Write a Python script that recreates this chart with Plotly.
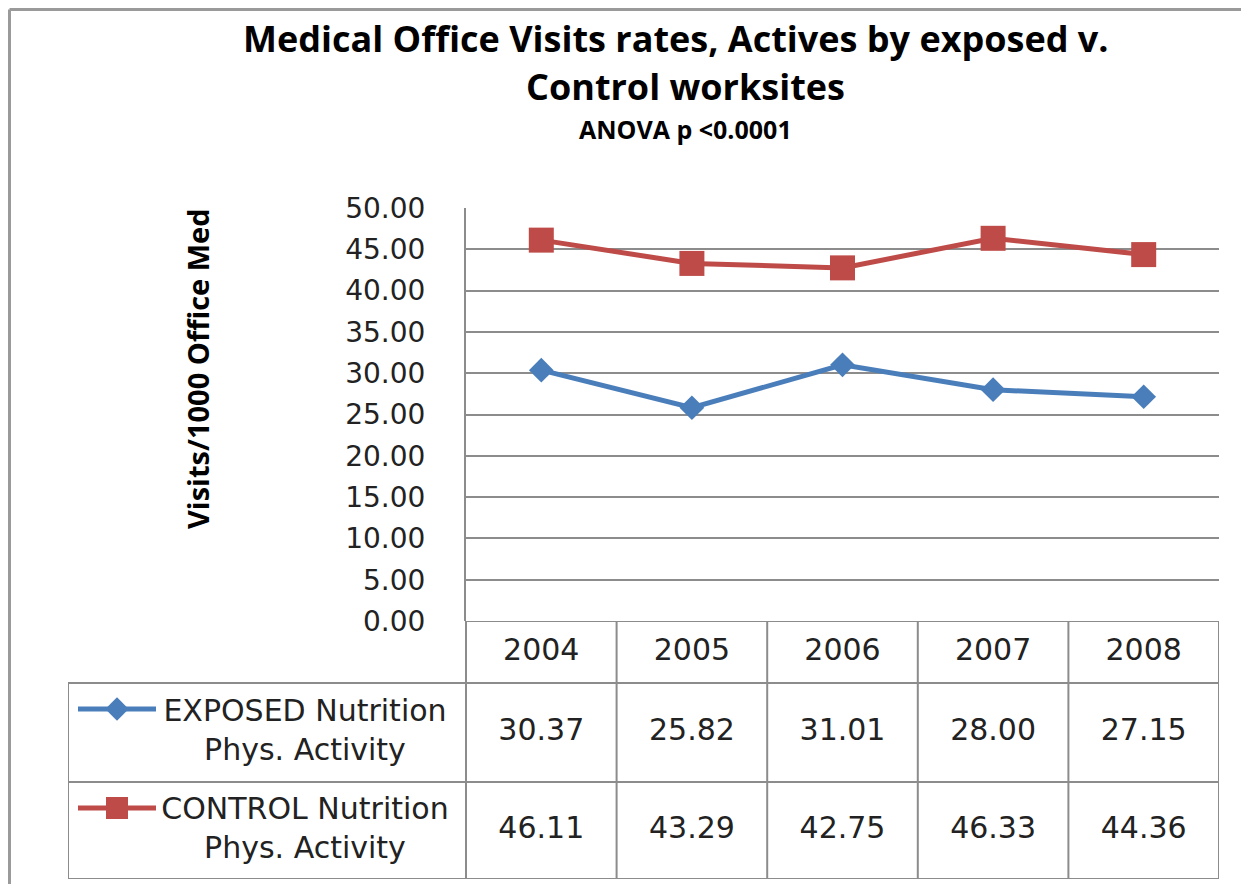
import plotly.graph_objects as go

# ---------------- data ----------------
years = [2004, 2005, 2006, 2007, 2008]
exposed = [30.37, 25.82, 31.01, 28.00, 27.15]
control = [46.11, 43.29, 42.75, 46.33, 44.36]
exposed_name = "EXPOSED Nutrition<br>Phys. Activity"
control_name = "CONTROL Nutrition<br>Phys. Activity"
y_ticks = [0, 5, 10, 15, 20, 25, 30, 35, 40, 45, 50]

# ---------------- layout constants ----------------
PAGE_W, PAGE_H = 1249, 892
OFF = 8                     # default page body margin
W, H = PAGE_W - 2 * OFF, PAGE_H - 2 * OFF
BLUE = "#4A7EBB"
RED = "#BE4B48"
GRID = "#8C8C8C"
FONT = "DejaVu Sans"
TFONT = "Open Sans"


def px(x):
    """page x pixel -> paper fraction"""
    return (x - OFF) / W


def py(y):
    """page y pixel -> paper fraction"""
    return 1 - (y - OFF) / H


plot_left, plot_right, plot_top, plot_bottom = 466, 1219, 208, 621
table_left, table_bottom = 68, 879
row_edges = [0, 62, 161, 258]  # header / exposed / control rows (table units = px)
cat_w = (plot_right - plot_left) / len(years)
x2_min = -0.5 - (plot_left - table_left) / cat_w
x2_max = len(years) - 0.5

fig = go.Figure()

# main lines
fig.add_trace(go.Scatter(
    x=[str(y) for y in years], y=exposed, mode="lines+markers",
    line=dict(color=BLUE, width=5),
    marker=dict(symbol="diamond", size=19, color=BLUE),
    xaxis="x", yaxis="y", showlegend=False, cliponaxis=False))
fig.add_trace(go.Scatter(
    x=[str(y) for y in years], y=control, mode="lines+markers",
    line=dict(color=RED, width=5),
    marker=dict(symbol="square", size=25, color=RED),
    xaxis="x", yaxis="y", showlegend=False, cliponaxis=False))

# ---------------- data table ----------------
idx = list(range(len(years)))
row_c = [(row_edges[i] + row_edges[i + 1]) / 2 for i in range(3)]
num_font = dict(family=FONT, size=30, color="#222")
fig.add_trace(go.Scatter(
    x=idx, y=[row_c[0]] * len(years), text=[str(y) for y in years],
    mode="text", textfont=num_font, xaxis="x2", yaxis="y2", showlegend=False))
fig.add_trace(go.Scatter(
    x=idx, y=[row_c[1]] * len(years), text=[f"{v:.2f}" for v in exposed],
    mode="text", textfont=num_font, xaxis="x2", yaxis="y2", showlegend=False))
fig.add_trace(go.Scatter(
    x=idx, y=[row_c[2]] * len(years), text=[f"{v:.2f}" for v in control],
    mode="text", textfont=num_font, xaxis="x2", yaxis="y2", showlegend=False))

# legend keys inside the table
key_c = x2_min + (117 - table_left) / cat_w
key_half = 39 / cat_w
label_c = x2_min + (305 - table_left) / cat_w
for name, col, sym, size, r in [(exposed_name, BLUE, "diamond", 18, 1),
                                (control_name, RED, "square", 22, 2)]:
    key_y = row_edges[r] + 26
    fig.add_trace(go.Scatter(
        x=[key_c - key_half, key_c + key_half], y=[key_y] * 2,
        mode="lines", line=dict(color=col, width=5),
        xaxis="x2", yaxis="y2", showlegend=False))
    fig.add_trace(go.Scatter(
        x=[key_c], y=[key_y], mode="markers",
        marker=dict(symbol=sym, size=size, color=col),
        xaxis="x2", yaxis="y2", showlegend=False))
    fig.add_trace(go.Scatter(
        x=[label_c], y=[row_c[r]], text=[name], mode="text",
        textfont=dict(family=FONT, size=30, color="#222"),
        xaxis="x2", yaxis="y2", showlegend=False))

shapes = []
ln = dict(color=GRID, width=2)
for i in range(len(years) + 1):
    shapes.append(dict(type="line", xref="x2", yref="y2", x0=i - 0.5, x1=i - 0.5,
                       y0=row_edges[0], y1=row_edges[-1], line=ln))
shapes.append(dict(type="line", xref="x2", yref="y2", x0=x2_min, x1=x2_min,
                   y0=row_edges[1], y1=row_edges[-1], line=ln))
shapes.append(dict(type="line", xref="x2", yref="y2", x0=-0.5, x1=x2_max,
                   y0=row_edges[0], y1=row_edges[0], line=ln))
for e in row_edges[1:]:
    shapes.append(dict(type="line", xref="x2", yref="y2", x0=x2_min, x1=x2_max,
                       y0=e, y1=e, line=ln))
# outer chart frame (only its top and left edges are visible)
frame = dict(color="#9A9A9A", width=3)
shapes.append(dict(type="line", xref="paper", yref="paper",
                   x0=px(9.5), x1=px(9.5), y0=0, y1=py(9.5), line=frame))
shapes.append(dict(type="line", xref="paper", yref="paper",
                   x0=px(9.5), x1=1, y0=py(9.5), y1=py(9.5), line=frame))

annotations = [
    dict(text="<b>Medical Office Visits rates, Actives by exposed v.</b>",
         x=px(676), y=py(38), xref="paper", yref="paper", showarrow=False,
         font=dict(family=TFONT, size=36, color="#000"), xanchor="center", yanchor="middle"),
    dict(text="<b>Control worksites</b>",
         x=px(685), y=py(86), xref="paper", yref="paper", showarrow=False,
         font=dict(family=TFONT, size=36, color="#000"), xanchor="center", yanchor="middle"),
    dict(text="<b>ANOVA p <0.0001</b>",
         x=px(685), y=py(129), xref="paper", yref="paper", showarrow=False,
         font=dict(family=TFONT, size=25, color="#000"), xanchor="center", yanchor="middle"),
    dict(text="<b>Visits/1000 Office Med</b>",
         x=px(197), y=py(369), xref="paper", yref="paper", showarrow=False, textangle=-90,
         font=dict(family=TFONT, size=29, color="#000"), xanchor="center", yanchor="middle"),
]

fig.update_layout(
    width=W, height=H, autosize=False,
    margin=dict(l=0, r=0, t=0, b=0, pad=0),
    paper_bgcolor="white", plot_bgcolor="white",
    xaxis=dict(domain=[px(plot_left), px(plot_right)], range=[-0.5, len(years) - 0.5],
               showticklabels=False, showgrid=False, zeroline=False, ticks="",
               showline=False, automargin=False),
    yaxis=dict(domain=[py(plot_bottom), py(plot_top)], range=[0, 50],
               tickvals=y_ticks, tickformat=".2f",
               tickfont=dict(family=FONT, size=28, color="#222"),
               showgrid=True, gridcolor=GRID, gridwidth=2, zeroline=False,
               showline=True, linecolor=GRID, linewidth=2,
               ticks="outside", ticklen=33, tickcolor="rgba(0,0,0,0)", automargin=False),
    xaxis2=dict(domain=[px(table_left), px(plot_right)], range=[x2_min, x2_max],
                visible=False, anchor="y2", automargin=False),
    yaxis2=dict(domain=[py(table_bottom), py(plot_bottom)],
                range=[row_edges[-1], row_edges[0]], visible=False, anchor="x2",
                automargin=False),
    shapes=shapes,
    annotations=annotations,
)

fig.write_html("out.html")
